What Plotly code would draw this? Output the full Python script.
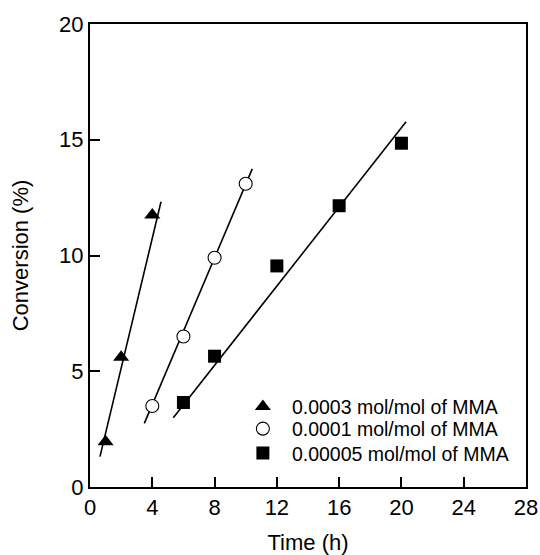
import plotly.graph_objects as go

# Measured conversion data (time in h, conversion in %)
t_0003 = [1, 2, 4]
c_0003 = [1.95, 5.6, 11.75]

t_0001 = [4, 6, 8, 10]
c_0001 = [3.5, 6.5, 9.9, 13.1]

t_00005 = [6, 8, 12, 16, 20]
c_00005 = [3.65, 5.65, 9.55, 12.15, 14.85]

# Linear fit segments (end points)
fit_0003_t = [0.64, 4.56]
fit_0003_c = [1.31, 12.32]
fit_0001_t = [3.49, 10.42]
fit_0001_c = [2.75, 13.74]
fit_00005_t = [5.35, 20.3]
fit_00005_c = [2.99, 15.78]

labels = ["0.0003 mol/mol of MMA", "0.0001 mol/mol of MMA", "0.00005 mol/mol of MMA"]

x_ticks = [0, 4, 8, 12, 16, 20, 24, 28]
y_ticks = [0, 5, 10, 15, 20]

FONT = "Arial, Liberation Sans, sans-serif"
LEG_FONT = dict(family=FONT, size=19.5, color="black")

fig = go.Figure()

for fx, fy in [(fit_0003_t, fit_0003_c), (fit_0001_t, fit_0001_c), (fit_00005_t, fit_00005_c)]:
    fig.add_trace(go.Scatter(x=fx, y=fy, mode="lines", showlegend=False,
                             line=dict(color="black", width=1.6), hoverinfo="skip"))

fig.add_trace(go.Scatter(x=t_0003, y=c_0003, mode="markers", name=labels[0], legend="legend",
                         marker=dict(symbol="triangle-up", size=14, color="black",
                                     line=dict(width=0))))
fig.add_trace(go.Scatter(x=t_0001, y=c_0001, mode="markers", name=labels[1], legend="legend2",
                         marker=dict(symbol="circle", size=13, color="white",
                                     line=dict(color="black", width=1.1))))
fig.add_trace(go.Scatter(x=t_00005, y=c_00005, mode="markers", name=labels[2], legend="legend3",
                         marker=dict(symbol="square", size=13, color="black",
                                     line=dict(width=0))))

axis_common = dict(
    showgrid=False, zeroline=False, showline=True, linecolor="black", linewidth=2,
    mirror=True, ticks="inside", ticklen=10, tickwidth=1.5, tickcolor="black",
    tickfont=dict(family=FONT, size=22, color="black"), automargin=False,
)

fig.update_xaxes(range=[0, 28], tickvals=x_ticks, ticktext=[str(v) for v in x_ticks],
                 title=dict(text="Time (h)", font=dict(family=FONT, size=22, color="black"),
                            standoff=16),
                 **axis_common)
fig.update_yaxes(range=[0, 20], tickvals=y_ticks, ticktext=[str(v) for v in y_ticks],
                 title=dict(text="Conversion (%)", font=dict(family=FONT, size=22, color="black"),
                            standoff=24),
                 **axis_common)

leg_common = dict(x=0.330, xanchor="left", yanchor="middle", bgcolor="rgba(0,0,0,0)",
                  borderwidth=0, font=LEG_FONT, itemwidth=48)

fig.update_layout(
    width=540, height=555,
    margin=dict(l=90, r=14, t=24, b=68),
    plot_bgcolor="white", paper_bgcolor="white",
    font=dict(family=FONT, color="black"),
    legend=dict(y=0.1734, **leg_common),
    legend2=dict(y=0.1253, **leg_common),
    legend3=dict(y=0.0728, **leg_common),
)

fig.write_html("out.html")
